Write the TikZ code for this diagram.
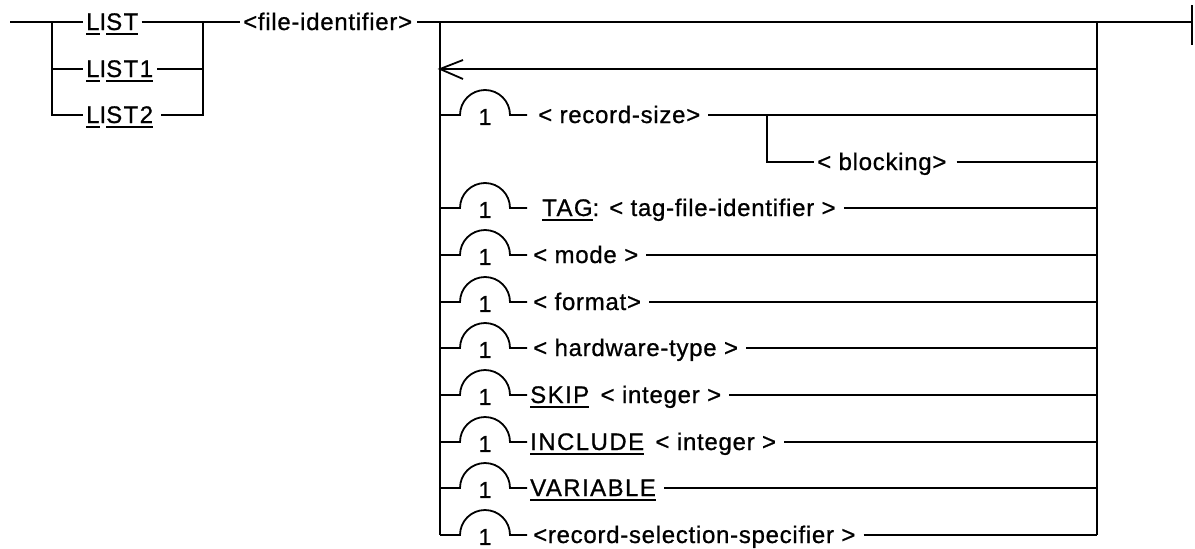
\documentclass[tikz,border=0pt]{standalone}
\usepackage{fontspec}
\setmainfont{Liberation Sans}[LetterSpace=3,FakeBold=0.8]
\newfontfamily\capsf[LetterSpace=6,FakeBold=0.8]{Liberation Sans}
\newcommand\uln[1]{\setbox0=\hbox{#1}\rlap{\rule[-5pt]{\wd0}{1.8pt}}\box0}
\newcommand\optrow[4]{%
  \coordinate (#1l) at (440,#2);
  \node[one] (#1n) at (485,#2+2) {1};
  \node[lbl] (#1t) at (#3,#2) {#4};
  \draw[rail] (#1l) -- ++(20,0) arc[start angle=180,end angle=0,radius=25pt] -- ++(17,0);
  \draw[rail] ([xshift=8pt]#1t.east) -- (#1t.east -| rtop);
}
\begin{document}
\begin{tikzpicture}[x=1pt,y=-1pt,
  rail/.style={line width=1.8pt},
  lbl/.style={inner sep=0pt,anchor=west,text height=18pt,text depth=2pt,font=\fontsize{24pt}{28pt}\selectfont},
  one/.style={inner sep=0pt,font=\fontsize{23pt}{27pt}\selectfont}]
\useasboundingbox (0,3) rectangle (1195,552);

% key coordinates
\coordinate (in) at (10,25);
\coordinate (la) at (52,25);
\coordinate (lb) at (52,72);
\coordinate (lc) at (52,118);
\coordinate (ra) at (203,25);
\coordinate (rb) at (203,72);
\coordinate (rc) at (203,118);
\coordinate (ltop) at (440,25);
\coordinate (lbot) at (440,538);
\coordinate (rtop) at (1097,25);
\coordinate (rbot) at (1097,538);
\coordinate (endc) at (1192,25);
\coordinate (endt) at (1192,8);
\coordinate (endb) at (1192,48);
\coordinate (ar) at (1097,72);
\coordinate (al) at (440,72);

% LIST group
\node[lbl] (list) at (86,25) {{\capsf\uln{L}I\uln{ST}}};
\node[lbl] (list1) at (86,72) {{\capsf\uln{L}I\uln{ST1}}};
\node[lbl] (list2) at (86,118) {{\capsf\uln{L}I\uln{ST2}}};
\node[lbl] (fid) at (243,25) {<file-identifier>};

\draw[rail] (in) -- ([xshift=-3pt]list.west);
\draw[rail] (la) -- (lc) -- ([xshift=-3pt]list2.west);
\draw[rail] (lb) -- ([xshift=-3pt]list1.west);
\draw[rail] ([xshift=3pt]list.east) -- (ra) -- (rc) -- ([xshift=8pt]list2.east);
\draw[rail] ([xshift=4pt]list1.east) -- (rb);
\draw[rail] (ra) -- ([xshift=-3pt]fid.west);
\draw[rail] ([xshift=5pt]fid.east) -- (endc);
\draw[rail] (endt) -- (endb);

% main verticals
\draw[rail] (ltop) -- (lbot);
\draw[rail] (rtop) -- (rbot);

% return arrow
\draw[rail] (ar) -- (al);
\draw[rail] ([shift={(23,-9)}]al) -- (al) -- ([shift={(23,10)}]al);

% option rows
\optrow{rs}{118}{538}{< record-size>}
\optrow{tg}{211}{542}{{\capsf\uln{TAG}}: < tag-file-identifier >}
\optrow{md}{258}{533}{< mode >}
\optrow{fm}{305}{533}{< format>}
\optrow{hw}{351}{533}{< hardware-type >}
\optrow{sk}{398}{530}{{\capsf\uln{SKIP}}\hspace{4pt} < integer >}
\optrow{ic}{445}{530}{{\capsf\uln{INCLUDE}}\hspace{4pt} < integer >}
\optrow{vr}{491}{530}{{\capsf\uln{VARIABLE}}}
\optrow{rss}{538}{533}{<record-selection-specifier >}

% blocking branch
\coordinate (bra) at (767,118);
\coordinate (brb) at (767,165);
\node[lbl] (blk) at (817,165) {< blocking>};
\draw[rail] (bra) -- (brb) -- ([xshift=-3pt]blk.west);
\draw[rail] ([xshift=10pt]blk.east) -- (blk.east -| rtop);
\end{tikzpicture}
\end{document}
